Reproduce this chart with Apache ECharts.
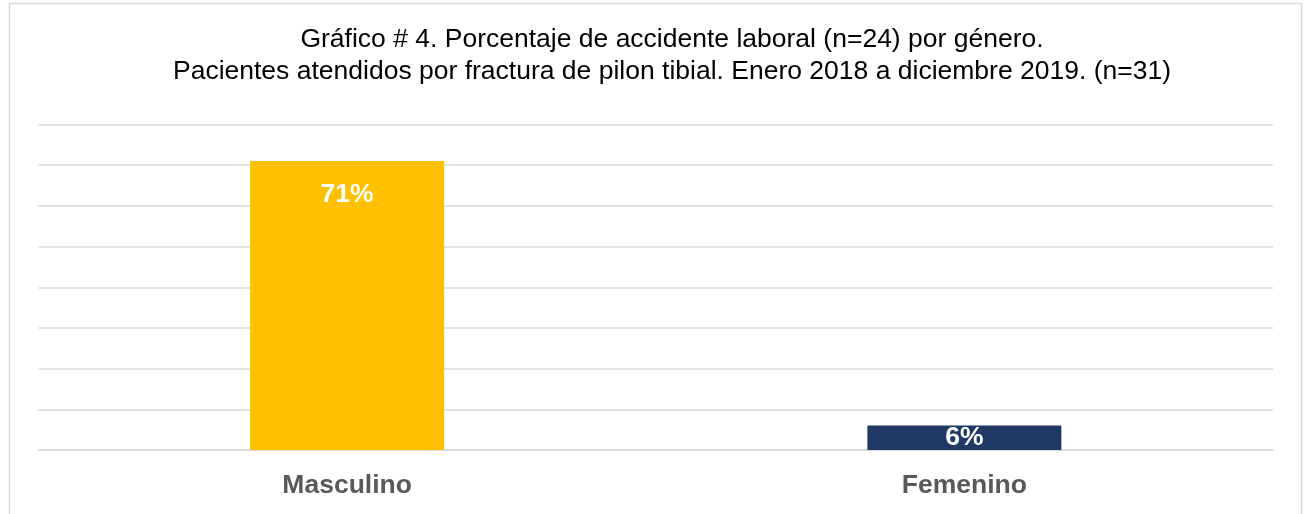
<!DOCTYPE html>
<html>
<head>
<meta charset="utf-8">
<script src="https://cdn.jsdelivr.net/npm/echarts@6/dist/echarts.min.js"></script>
<style>
    html, body { margin: 0; padding: 0; background: #fff; }
    #chart { width: 1306px; height: 514px; }
</style>
</head>
<body>
<div id="chart"></div>
<script>
var categories = ['Masculino', 'Femenino'];
var values = [71, 6];
var barColors = ['#FFC000', '#203864'];

var chart = echarts.init(document.getElementById('chart'));
var option = {
    backgroundColor: '#fff',
    animation: false,
    graphic: [
        {
            type: 'rect',
            shape: { x: 9.5, y: 3.5, width: 1292, height: 530 },
            style: { fill: 'none', stroke: '#d9d9d9', lineWidth: 1.5 },
            silent: true
        }
    ],
    title: {
        text: 'Gráfico # 4. Porcentaje de accidente laboral (n=24) por género.\nPacientes atendidos por fractura de pilon tibial. Enero 2018 a diciembre 2019. (n=31)',
        left: 667,
        top: 19,
        textAlign: 'center',
        textStyle: {
            fontFamily: 'Liberation Sans',
            fontSize: 26.5,
            fontWeight: 'normal',
            color: '#000',
            lineHeight: 32
        }
    },
    grid: {
        left: 38.5,
        right: 33,
        top: 124.5,
        bottom: 64,
        containLabel: false
    },
    xAxis: {
        type: 'category',
        data: categories,
        axisTick: { show: false },
        axisLine: { lineStyle: { color: '#d9d9d9', width: 1.5 } },
        axisLabel: {
            margin: 22,
            fontFamily: 'Liberation Sans',
            fontSize: 26.5,
            fontWeight: 'bold',
            color: '#595959'
        }
    },
    yAxis: {
        type: 'value',
        min: 0,
        max: 80,
        interval: 10,
        axisLabel: { show: false },
        axisLine: { show: false },
        axisTick: { show: false },
        splitLine: { lineStyle: { color: '#d9d9d9', width: 1.5 } }
    },
    series: [
        {
            type: 'bar',
            barWidth: 194,
            data: values.map(function (v, i) {
                var item = { value: v, itemStyle: { color: barColors[i] } };
                // short bar: centre the label inside it
                if (v < 10) {
                    item.label = { position: 'inside' };
                }
                return item;
            }),
            label: {
                show: true,
                position: 'insideTop',
                distance: 20,
                formatter: '{c}%',
                fontFamily: 'Liberation Sans',
                fontSize: 26.5,
                fontWeight: 'bold',
                color: '#fff'
            }
        }
    ]
};
chart.setOption(option);
</script>
</body>
</html>
